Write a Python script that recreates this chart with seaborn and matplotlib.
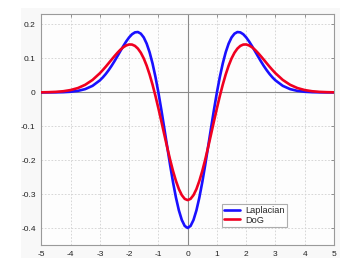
import matplotlib
matplotlib.use("Agg")
import matplotlib.pyplot as plt
import seaborn as sns
import pandas as pd
from matplotlib.patches import Rectangle

# ---- data ----
x_pos = [0.0, 0.1, 0.2, 0.3, 0.4, 0.5, 0.6, 0.7, 0.8, 0.9, 1.0,
         1.1, 1.2, 1.3, 1.4, 1.5, 1.6, 1.7, 1.8, 1.9, 2.0,
         2.1, 2.2, 2.3, 2.4, 2.5, 2.6, 2.7, 2.8, 2.9, 3.0,
         3.25, 3.5, 3.75, 4.0, 4.25, 4.5, 4.75, 5.0]
x_vals = [-v for v in x_pos[:0:-1]] + x_pos

laplacian_half = [-0.3989, -0.3930, -0.3754, -0.3471, -0.3093, -0.2641, -0.2133,
                  -0.1592, -0.1043, -0.0506, 0.0000, 0.0457, 0.0854, 0.1182,
                  0.1437, 0.1619, 0.1730, 0.1778, 0.1768, 0.1713, 0.1620,
                  0.1500, 0.1362, 0.1215, 0.1066, 0.0920, 0.0782, 0.0655,
                  0.0541, 0.0441, 0.0355, 0.0194, 0.0098, 0.0046, 0.0020,
                  0.0008, 0.0003, 0.0001, 0.0000]
dog_half = [-0.3170, -0.3133, -0.3023, -0.2845, -0.2604, -0.2312, -0.1977,
            -0.1612, -0.1231, -0.0844, -0.0465, -0.0103, 0.0230, 0.0529,
            0.0787, 0.1001, 0.1169, 0.1291, 0.1370, 0.1409, 0.1412,
            0.1383, 0.1329, 0.1256, 0.1166, 0.1068, 0.0965, 0.0860,
            0.0756, 0.0658, 0.0565, 0.0368, 0.0225, 0.0129, 0.0070,
            0.0035, 0.0017, 0.0008, 0.0003]
laplacian = laplacian_half[:0:-1] + laplacian_half
dog = dog_half[:0:-1] + dog_half

series_names = ["Laplacian", "DoG"]
series_colors = ["#1a10ff", "#f00020"]
x_ticks = [-5, -4, -3, -2, -1, 0, 1, 2, 3, 4, 5]
y_ticks = [-0.4, -0.3, -0.2, -0.1, 0, 0.1, 0.2]
y_tick_labels = ["-0.4", "-0.3", "-0.2", "-0.1", "0", "0.1", "0.2"]

df = pd.DataFrame({
    "x": x_vals + x_vals,
    "y": laplacian + dog,
    "series": [series_names[0]] * len(x_vals) + [series_names[1]] * len(x_vals),
})

sns.set_style("white")
plt.rcParams["font.family"] = ["Liberation Sans", "DejaVu Sans"]
plt.rcParams["axes.unicode_minus"] = False

fig = plt.figure(figsize=(3.54, 2.67), dpi=100, facecolor="white")
fig.patches.append(Rectangle((21 / 354, 1 - 258 / 267), (340 - 21) / 354, (258 - 8) / 267,
                             transform=fig.transFigure, facecolor="#f8f8f8",
                             edgecolor="none", zorder=-10))
ax = fig.add_axes([41.3 / 354, 21.7 / 267, (334 - 41.3) / 354, (245.3 - 14.3) / 267])
ax.set_facecolor("#fdfdfd")

# zero lines
ax.axhline(0, color="#8a8a8a", lw=0.8, zorder=1)
ax.axvline(0, color="#8a8a8a", lw=0.8, zorder=1)

sns.lineplot(data=df, x="x", y="y", hue="series", palette=series_colors,
             linewidth=1.9, ax=ax, sort=False, estimator=None, zorder=3)

ax.set_xlim(-5, 5)
ax.set_ylim(-0.45, 0.23)
ax.set_xticks(x_ticks)
ax.set_xticklabels([str(t) for t in x_ticks])
ax.set_yticks(y_ticks)
ax.set_yticklabels(y_tick_labels)
ax.set_xlabel("")
ax.set_ylabel("")
ax.grid(True, color="#d0d0d0", linestyle=(0, (2, 2)), linewidth=0.6)
ax.tick_params(axis="both", direction="in", length=2.5, width=0.6,
               colors="#808080", labelcolor="#222222", labelsize=6, pad=4,
               top=True, right=True)
for s in ax.spines.values():
    s.set_color("#9a9a9a")
    s.set_linewidth(0.8)
    s.set_visible(True)

leg = ax.legend(loc="lower left", bbox_to_anchor=((221.7 - 41.3) / 292.7, (245.3 - 226.7) / 231),
                fontsize=6.6, frameon=True, fancybox=False, handlelength=1.8,
                handletextpad=0.55, borderpad=0.22, labelspacing=0.05, borderaxespad=0)
leg.get_frame().set_edgecolor("#9a9a9a")
leg.get_frame().set_linewidth(0.8)
leg.get_frame().set_facecolor("white")
for line in leg.get_lines():
    line.set_linewidth(1.9)

fig.savefig("out.png", dpi=100, facecolor="white")
